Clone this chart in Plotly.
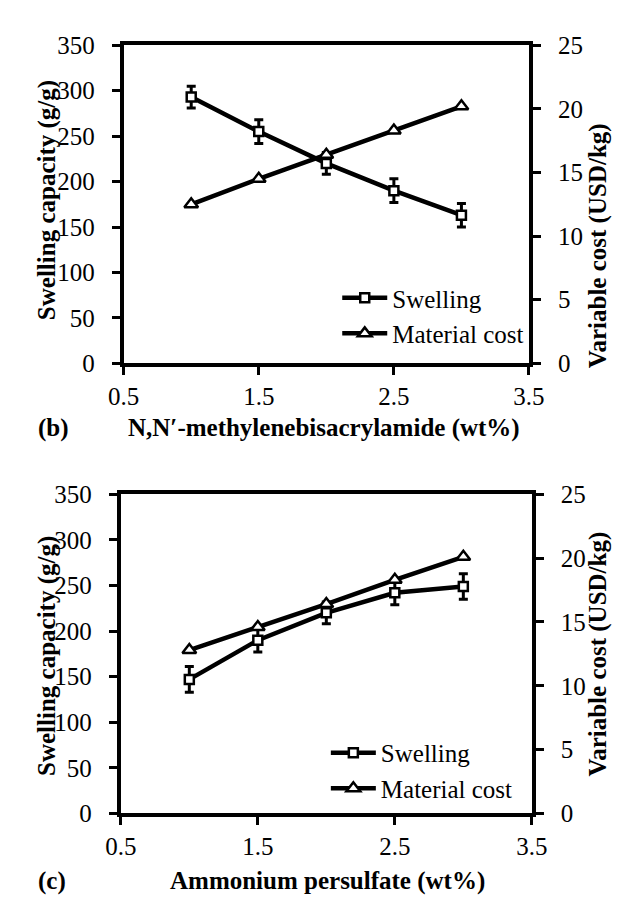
import plotly.graph_objects as go

# ---------------- data ----------------
x_vals = [1.0, 1.5, 2.0, 2.5, 3.0]

mba_swelling = [293, 255, 220, 190, 163]
mba_swelling_err = [12, 13, 12, 13, 13]
mba_cost = [12.5, 14.5, 16.4, 18.3, 20.2]

aps_swelling = [147, 190, 220, 242, 249]
aps_swelling_err = [14, 13, 12, 13, 14]
aps_cost = [12.8, 14.6, 16.4, 18.3, 20.1]

x_ticks = [0.5, 1.5, 2.5, 3.5]
x_tick_text = ["0.5", "1.5", "2.5", "3.5"]
series_names = ["Swelling", "Material cost"]

# ---------------- style ----------------
FONT = "Liberation Serif, Times New Roman, serif"
W, H = 630, 897
FS = 25

def px(x):
    return x / W

def py(y):
    return 1 - y / H

fig = go.Figure()

def add_panel(sw, sw_err, cost, xa, ya, ya2, legend):
    fig.add_trace(go.Scatter(
        x=x_vals, y=sw, name=series_names[0], mode="lines+markers",
        xaxis=xa, yaxis=ya, legend=legend,
        line=dict(color="black", width=4.5),
        marker=dict(symbol="square", size=9, color="white",
                    line=dict(color="black", width=2.5)),
        error_y=dict(type="data", array=sw_err, visible=True,
                     color="black", thickness=3, width=4.5),
    ))
    fig.add_trace(go.Scatter(
        x=x_vals, y=cost, name=series_names[1], mode="lines+markers",
        xaxis=xa, yaxis=ya2, legend=legend,
        line=dict(color="black", width=4.5),
        marker=dict(symbol="triangle-up", size=12, color="white",
                    line=dict(color="black", width=2.5)),
    ))

add_panel(mba_swelling, mba_swelling_err, mba_cost, "x", "y", "y2", "legend")
add_panel(aps_swelling, aps_swelling_err, aps_cost, "x2", "y3", "y4", "legend2")

tickfont = dict(family=FONT, size=FS, color="black")

def xaxis_cfg(domain, anchor):
    return dict(domain=domain, anchor=anchor, range=[0.5, 3.5],
                tickvals=x_ticks, ticktext=x_tick_text,
                showline=True, linecolor="black", linewidth=4, mirror=True,
                ticks="outside", ticklen=8, tickwidth=3, tickcolor="black",
                showgrid=False, zeroline=False, tickfont=tickfont,
                ticklabelstandoff=0)

def yaxis_cfg(domain, anchor, rng, dtick, side="left", overlaying=None):
    d = dict(domain=domain, anchor=anchor, range=rng, dtick=dtick, side=side,
             showline=True, linecolor="black", linewidth=4,
             ticks="outside", ticklen=8, tickwidth=3, tickcolor="black",
             showgrid=False, zeroline=False, tickfont=tickfont,
             ticklabelstandoff=12)
    if overlaying:
        d["overlaying"] = overlaying
    return d

# inner halves of the crossing tick marks
def x_inner(domain, anchor, over):
    return dict(domain=domain, anchor=anchor, range=[0.5, 3.5], overlaying=over,
                tickvals=x_ticks, ticks="inside", ticklen=6, tickwidth=3,
                tickcolor="black", showticklabels=False, showline=False,
                showgrid=False, zeroline=False)

def y_inner(domain, anchor, rng, dtick, over, side="left"):
    return dict(domain=domain, anchor=anchor, range=rng, dtick=dtick,
                overlaying=over, side=side, ticks="inside", ticklen=6,
                tickwidth=3, tickcolor="black", showticklabels=False,
                showline=False, showgrid=False, zeroline=False)

top_x = [px(105), px(532)]
top_y = [py(353), py(25)]
bot_x = [px(102), px(535)]
bot_y = [py(817), py(488)]

fig.update_layout(
    width=W, height=H,
    margin=dict(l=0, r=0, t=0, b=0),
    paper_bgcolor="white", plot_bgcolor="white",
    font=dict(family=FONT, size=FS, color="black"),
    xaxis=xaxis_cfg(top_x, "y"),
    yaxis=yaxis_cfg(top_y, "x", [0, 350], 50),
    yaxis2=yaxis_cfg(top_y, "x", [0, 25], 5, side="right", overlaying="y"),
    xaxis2=xaxis_cfg(bot_x, "y3"),
    yaxis3=yaxis_cfg(bot_y, "x2", [0, 350], 50),
    yaxis4=yaxis_cfg(bot_y, "x2", [0, 25], 5, side="right", overlaying="y3"),
    xaxis3=x_inner(top_x, "y", "x"),
    xaxis4=x_inner(bot_x, "y3", "x2"),
    yaxis5=y_inner(top_y, "x", [0, 350], 50, "y"),
    yaxis6=y_inner(top_y, "x", [0, 25], 5, "y", side="right"),
    yaxis7=y_inner(bot_y, "x2", [0, 350], 50, "y3"),
    yaxis8=y_inner(bot_y, "x2", [0, 25], 5, "y3", side="right"),
    legend=dict(x=px(330), y=py(262), xanchor="left", yanchor="top",
                bgcolor="rgba(0,0,0,0)", itemwidth=45,
                font=dict(family=FONT, size=FS), tracegroupgap=0),
    legend2=dict(x=px(318), y=py(731), xanchor="left", yanchor="top",
                 bgcolor="rgba(0,0,0,0)", itemwidth=45,
                 font=dict(family=FONT, size=FS), tracegroupgap=0),
    showlegend=True,
)

bold = dict(family=FONT, size=FS, color="black")
annots = [
    dict(text="<b>Swelling capacity (g/g)</b>", x=px(25), y=py(185), textangle=-90),
    dict(text="<b>Variable cost (USD/kg)</b>", x=px(605), y=py(232), textangle=-90),
    dict(text="<b>(b)</b>", x=px(31), y=py(420)),
    dict(text="<b>N,N′-methylenebisacrylamide (wt%)</b>", x=px(316), y=py(420)),
    dict(text="<b>Swelling capacity (g/g)</b>", x=px(25), y=py(655), textangle=-90),
    dict(text="<b>Variable cost (USD/kg)</b>", x=px(605), y=py(653), textangle=-90),
    dict(text="<b>(c)</b>", x=px(29), y=py(887)),
    dict(text="<b>Ammonium persulfate (wt%)</b>", x=px(320), y=py(887)),
]
for a in annots:
    fig.add_annotation(xref="paper", yref="paper", showarrow=False,
                       xanchor="center", yanchor="middle", font=bold, **a)

fig.write_html("out.html")
